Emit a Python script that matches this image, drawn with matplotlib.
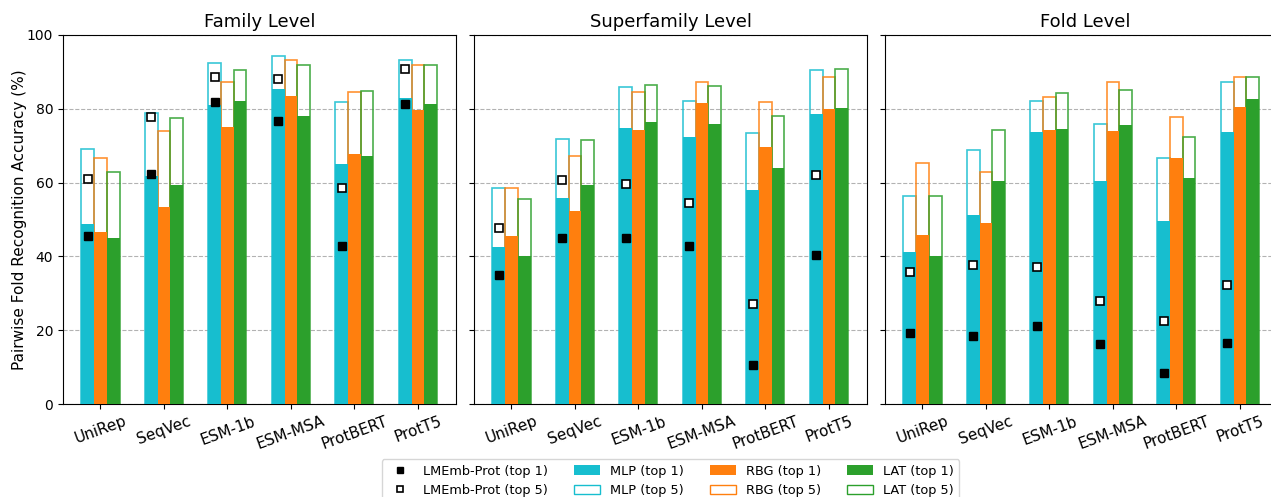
import matplotlib.pyplot as plt
import numpy as np
from matplotlib.lines import Line2D
from matplotlib.patches import Patch

modelos = ["UniRep", "SeqVec", "ESM-1b", "ESM-MSA", "ProtBERT", "ProtT5"]
niveis = ["Family Level", "Superfamily Level", "Fold Level"]

# acurácias (%) por nível: uma lista por modelo de linguagem
lmemb_top1 = {
    "Family Level": [45.6, 62.3, 81.8, 76.7, 42.9, 81.3],
    "Superfamily Level": [35.0, 44.9, 44.9, 42.9, 10.7, 40.3],
    "Fold Level": [19.2, 18.3, 21.1, 16.2, 8.3, 16.4],
}
lmemb_top5 = {
    "Family Level": [61.0, 77.9, 88.6, 88.2, 58.6, 90.9],
    "Superfamily Level": [47.7, 60.6, 59.7, 54.5, 27.2, 62.1],
    "Fold Level": [35.8, 37.7, 37.1, 28.0, 22.4, 32.3],
}
mlp_top1 = {
    "Family Level": [48.7, 61.9, 81.0, 85.3, 65.0, 82.8],
    "Superfamily Level": [42.6, 55.8, 74.8, 72.3, 57.9, 78.7],
    "Fold Level": [41.2, 51.2, 73.6, 60.5, 49.6, 73.6],
}
mlp_top5 = {
    "Family Level": [69.1, 78.8, 92.4, 94.2, 81.9, 93.3],
    "Superfamily Level": [58.5, 71.8, 85.9, 82.1, 73.5, 90.4],
    "Fold Level": [56.5, 68.8, 82.0, 76.0, 66.8, 87.3],
}
rbg_top1 = {
    "Family Level": [46.6, 53.4, 75.2, 83.4, 67.8, 79.6],
    "Superfamily Level": [45.4, 52.2, 74.3, 81.5, 69.6, 79.9],
    "Fold Level": [45.9, 49.0, 74.3, 74.1, 66.8, 80.6],
}
rbg_top5 = {
    "Family Level": [66.8, 74.0, 87.3, 93.3, 84.5, 91.8],
    "Superfamily Level": [58.5, 67.3, 84.6, 87.3, 81.9, 88.5],
    "Fold Level": [65.4, 63.0, 83.3, 87.3, 77.9, 88.5],
}
lat_top1 = {
    "Family Level": [45.0, 59.3, 82.1, 78.0, 67.1, 81.3],
    "Superfamily Level": [40.0, 59.3, 76.4, 75.9, 64.0, 80.3],
    "Fold Level": [40.2, 60.3, 74.6, 75.5, 61.2, 82.7],
}
lat_top5 = {
    "Family Level": [62.9, 77.6, 90.6, 92.0, 84.9, 91.8],
    "Superfamily Level": [55.5, 71.5, 86.5, 86.3, 78.1, 90.7],
    "Fold Level": [56.5, 74.2, 84.2, 85.1, 72.4, 88.5],
}

cor_mlp = "#17becf"
cor_rbg = "#ff7f0e"
cor_lat = "#2ca02c"
largura = 0.2

fig = plt.figure(figsize=(12.71, 4.97), dpi=100)
# o terceiro painel passa um pouco da borda direita da figura
posicoes = [(63, 393), (474, 393), (885, 400)]
eixos = []
for esq, larg in posicoes:
    ax = fig.add_axes([esq / 1271, 93 / 497, larg / 1271, 369 / 497],
                      sharey=eixos[0] if eixos else None)
    eixos.append(ax)

x = np.arange(len(modelos))
for ax, nivel in zip(eixos, niveis):
    series = [
        (-largura, mlp_top1[nivel], mlp_top5[nivel], cor_mlp),
        (0.0, rbg_top1[nivel], rbg_top5[nivel], cor_rbg),
        (largura, lat_top1[nivel], lat_top5[nivel], cor_lat),
    ]
    for desloc, top1, top5, cor in series:
        ax.bar(x + desloc, top5, largura, fill=False, edgecolor=cor,
               linewidth=1.2, alpha=0.85, zorder=2)
        ax.bar(x + desloc, top1, largura, color=cor, linewidth=0, zorder=3)
    ax.plot(x - largura, lmemb_top1[nivel], "s", color="black",
            markersize=6, zorder=4)
    ax.plot(x - largura, lmemb_top5[nivel], "s", markerfacecolor="white",
            markeredgecolor="black", markeredgewidth=1.2, markersize=6,
            zorder=4)

    ax.set_title(nivel, fontsize=13)
    ax.set_xticks(x)
    ax.set_xticklabels(modelos, rotation=20, fontsize=11)
    ax.set_xlim(-0.59, 5.6)
    ax.set_ylim(0, 100)
    ax.set_yticks(np.arange(0, 101, 20))
    ax.grid(axis="y", linestyle="--", color="gray", alpha=0.6)
    ax.set_axisbelow(True)
    if ax is not eixos[0]:
        ax.tick_params(axis="y", labelleft=False)

# mesma escala horizontal no painel mais largo
eixos[2].set_xlim(-0.59, -0.59 + 6.19 * 400 / 393)

eixos[0].set_ylabel("Pairwise Fold Recognition Accuracy (%)", fontsize=11,
                    labelpad=0)

itens = [
    Line2D([], [], marker="s", color="black", linestyle="none",
           markersize=4.5, label="LMEmb-Prot (top 1)"),
    Line2D([], [], marker="s", markerfacecolor="white",
           markeredgecolor="black", markeredgewidth=1.2, linestyle="none",
           markersize=4.5, label="LMEmb-Prot (top 5)"),
    Patch(facecolor=cor_mlp, label="MLP (top 1)"),
    Patch(facecolor="white", edgecolor=cor_mlp, label="MLP (top 5)"),
    Patch(facecolor=cor_rbg, label="RBG (top 1)"),
    Patch(facecolor="white", edgecolor=cor_rbg, label="RBG (top 5)"),
    Patch(facecolor=cor_lat, label="LAT (top 1)"),
    Patch(facecolor="white", edgecolor=cor_lat, label="LAT (top 5)"),
]
eixos[1].legend(handles=itens, ncol=4, loc="upper center",
                bbox_to_anchor=(0.5, -0.15), fontsize=9.3, borderaxespad=0)

fig.savefig("out.png", dpi=100)
